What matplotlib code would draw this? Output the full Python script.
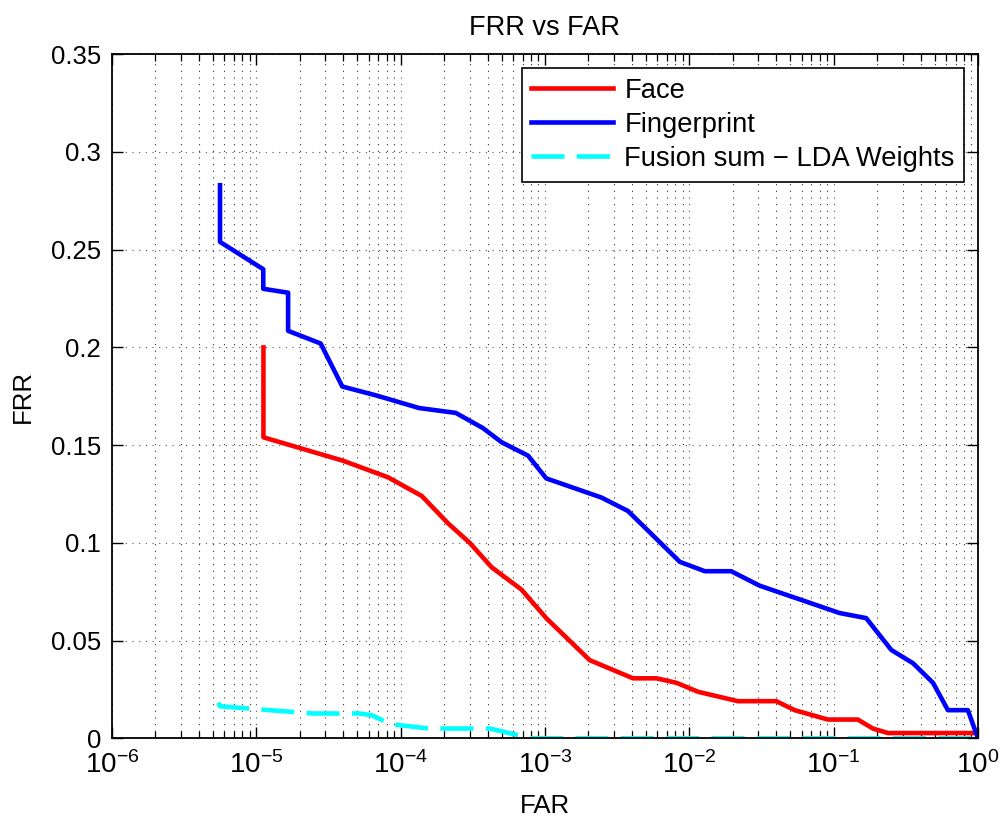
import matplotlib
matplotlib.use("Agg")
import matplotlib.pyplot as plt
import numpy as np
from matplotlib.ticker import LogLocator, NullFormatter

plt.rcParams['font.family'] = ['Liberation Sans', 'DejaVu Sans']
plt.rcParams['mathtext.fontset'] = 'custom'
plt.rcParams['mathtext.rm'] = 'Liberation Sans'
plt.rcParams['mathtext.it'] = 'Liberation Sans:italic'

# Face curve (FAR, FRR)
face_far = [1.12e-5, 1.12e-5, 4.0e-5, 8.2e-5, 1.40e-4, 2.13e-4, 3.01e-4, 4.27e-4,
            6.87e-4, 1.02e-3, 2.04e-3, 4.07e-3, 5.92e-3, 8.15e-3, 1.15e-2,
            2.17e-2, 4.01e-2, 5.37e-2, 9.12e-2, 0.147, 0.187, 0.238, 1.0]
face_frr = [0.200, 0.154, 0.142, 0.1335, 0.124, 0.110, 0.100, 0.0875,
            0.0761, 0.0615, 0.040, 0.0307, 0.0307, 0.0284, 0.0238,
            0.019, 0.019, 0.0144, 0.0096, 0.0096, 0.005, 0.0027, 0.0027]

# Fingerprint curve (FAR, FRR)
fp_far = [5.6e-6, 5.6e-6, 1.117e-5, 1.117e-5, 1.66e-5, 1.66e-5, 2.79e-5, 3.94e-5,
          6.8e-5, 1.34e-4, 2.41e-4, 3.72e-4, 5.0e-4, 7.64e-4, 1.02e-3, 2.46e-3,
          3.76e-3, 8.59e-3, 1.28e-2, 1.95e-2, 3.07e-2, 0.110, 0.168, 0.251,
          0.355, 0.488, 0.619, 0.851, 1.0]
fp_frr = [0.283, 0.254, 0.240, 0.230, 0.228, 0.2085, 0.202, 0.180,
          0.1754, 0.169, 0.1665, 0.1587, 0.1515, 0.1446, 0.133, 0.1232,
          0.1163, 0.0903, 0.0855, 0.0855, 0.0781, 0.0641, 0.0615, 0.0452,
          0.0384, 0.0284, 0.0144, 0.0144, 0.0]

# Fusion sum - LDA weights curve (FAR, FRR)
fus_far = [5.45e-6, 5.6e-6, 1.24e-5, 2.48e-5, 5.21e-5, 6.3e-5, 8.4e-5, 9.86e-5,
           1.58e-4, 4.15e-4, 8.05e-4, 1.0]
fus_frr = [0.0182, 0.0164, 0.0144, 0.0127, 0.0127, 0.0118, 0.0075, 0.0067,
           0.005, 0.005, 0.0, 0.0]

yticks = [0, 0.05, 0.1, 0.15, 0.2, 0.25, 0.3, 0.35]
ylabels = ['0', '0.05', '0.1', '0.15', '0.2', '0.25', '0.3', '0.35']

fig = plt.figure(figsize=(10.01, 8.16), dpi=100)
ax = fig.add_axes([0.1119, 0.0952, 0.8651, 0.8383])

lw = 3.3
ax.plot(face_far, face_frr, color='red', lw=lw, label='Face')
ax.plot(fp_far, fp_frr, color='blue', lw=lw, label='Fingerprint')
ax.plot(fus_far, fus_frr, color='cyan', lw=lw, dashes=(7.2, 2.7),
        label='Fusion sum \u2212 LDA Weights')

ax.set_xscale('log')
ax.set_xlim(1e-6, 1)
ax.set_ylim(0, 0.35)
ax.set_yticks(yticks)
ax.set_yticklabels(ylabels)
ax.xaxis.set_major_locator(LogLocator(base=10, numticks=10))
ax.xaxis.set_minor_locator(LogLocator(base=10, subs=np.arange(2, 10), numticks=20))
ax.xaxis.set_minor_formatter(NullFormatter())

ax.tick_params(which='both', direction='in', top=True, right=True)
ax.tick_params(which='major', length=8, width=1.0)
ax.tick_params(which='minor', length=5, width=0.9)
ax.tick_params(axis='y', labelsize=18.5, pad=8)
ax.tick_params(axis='x', which='major', labelsize=20, pad=9)

ax.grid(True, which='major', linestyle=(0, (1, 5)), color='#555555', lw=0.8)
ax.grid(True, which='minor', axis='x', linestyle=(0, (1, 5)), color='#333333', lw=0.8)

for s in ax.spines.values():
    s.set_linewidth(1.3)

ax.set_title('FRR vs FAR', fontsize=19.5, pad=14)
ax.set_xlabel('FAR', fontsize=18.5, labelpad=11)
ax.set_ylabel('FRR', fontsize=18.5, labelpad=11)

leg = ax.legend(loc='upper right', fontsize=19.7, fancybox=False, framealpha=1,
                edgecolor='black', handlelength=3.0, borderpad=0.35,
                labelspacing=0.3, handletextpad=0.4, borderaxespad=0.5)
leg.get_frame().set_linewidth(1.2)

fig.savefig('out.png', dpi=100)
